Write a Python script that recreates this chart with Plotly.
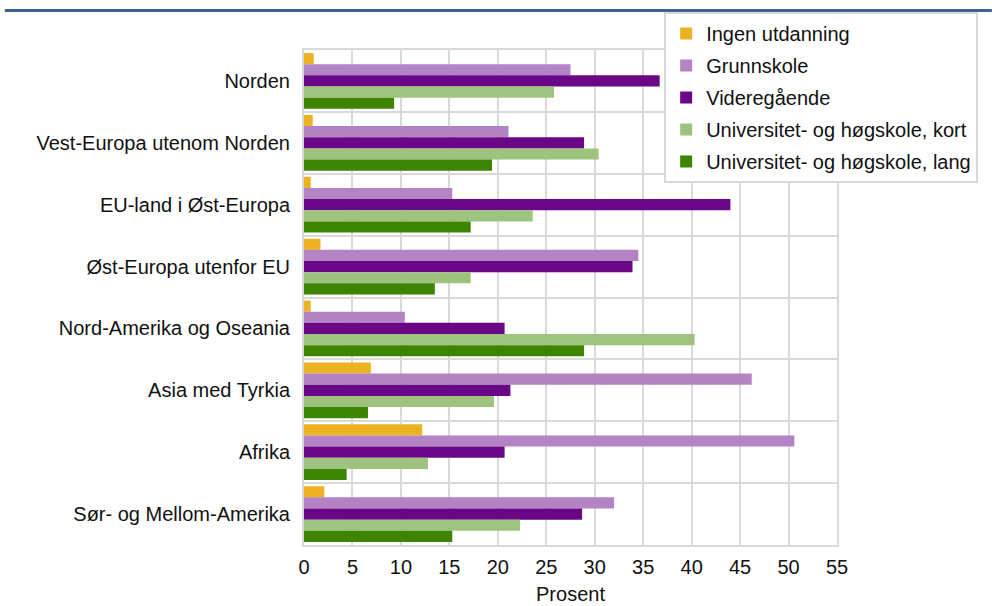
import plotly.graph_objects as go

categories = ["Norden", "Vest-Europa utenom Norden", "EU-land i Øst-Europa",
              "Øst-Europa utenfor EU", "Nord-Amerika og Oseania", "Asia med Tyrkia",
              "Afrika", "Sør- og Mellom-Amerika"]

series_names = ["Ingen utdanning", "Grunnskole", "Videregående",
                "Universitet- og høgskole, kort", "Universitet- og høgskole, lang"]

ingen = [1.0, 0.9, 0.7, 1.7, 0.7, 6.9, 12.2, 2.1]
grunnskole = [27.5, 21.1, 15.3, 34.5, 10.4, 46.2, 50.6, 32.0]
videregaende = [36.7, 28.9, 44.0, 33.9, 20.7, 21.3, 20.7, 28.7]
uni_kort = [25.8, 30.4, 23.6, 17.2, 40.3, 19.6, 12.8, 22.3]
uni_lang = [9.3, 19.4, 17.2, 13.5, 28.9, 6.6, 4.4, 15.3]

series_values = [ingen, grunnskole, videregaende, uni_kort, uni_lang]
colors = ["#EDB221", "#B383C3", "#6A0786", "#9DC37F", "#3D8400"]

x_ticks = list(range(0, 56, 5))

FONT = "Liberation Sans, Arial, sans-serif"
FS = 20

fig = go.Figure()
for name, vals, col in zip(series_names, series_values, colors):
    fig.add_trace(go.Bar(
        y=categories, x=vals, name=name, orientation="h",
        marker=dict(color=col, line=dict(width=0)),
        legendgroup=name,
    ))

W, H = 992, 606
L, R, T, B = 303.5, 992 - 837, 50, 606 - 545
pw = W - L - R
ph = H - T - B

def px_x(px):
    return (px - L) / pw

def px_y(py):
    return (H - B - py) / ph

fig.update_layout(
    width=W, height=H,
    margin=dict(l=L, r=R, t=T, b=B, autoexpand=False),
    paper_bgcolor="white", plot_bgcolor="white",
    barmode="group", bargap=0.1, bargroupgap=0,
    font=dict(family=FONT, size=FS, color="#111111"),
    legend=dict(
        x=px_x(664), y=px_y(12), xanchor="left", yanchor="top",
        bgcolor="white", bordercolor="#D9D9D9", borderwidth=2,
        traceorder="grouped", tracegroupgap=3,
        font=dict(family=FONT, size=FS, color="#111111"),
    ),
    xaxis=dict(
        range=[0, 55], tickmode="array", tickvals=x_ticks,
        ticktext=[str(v) for v in x_ticks],
        showgrid=True, gridcolor="#D9D9D9", gridwidth=2,
        zeroline=False,
        showline=True, mirror=True, linecolor="#D9D9D9", linewidth=2,
        ticks="", ticklabelstandoff=3,
        title=dict(text="Prosent", standoff=10, font=dict(size=FS)),
        automargin=False,
    ),
    yaxis=dict(
        type="category", categoryorder="array", categoryarray=categories,
        autorange="reversed", tickson="boundaries",
        showgrid=True, gridcolor="#D9D9D9", gridwidth=2,
        showline=True, mirror=True, linecolor="#D9D9D9", linewidth=2,
        ticks="", ticklabelstandoff=8,
        automargin=False,
    ),
    shapes=[dict(type="line", xref="paper", yref="paper",
                 x0=px_x(4), x1=px_x(992), y0=px_y(10.5), y1=px_y(10.5),
                 line=dict(color="#42608C", width=3))],
)

fig.write_html("out.html", config={"displayModeBar": False},
               post_script="document.body.style.margin='0px';")
